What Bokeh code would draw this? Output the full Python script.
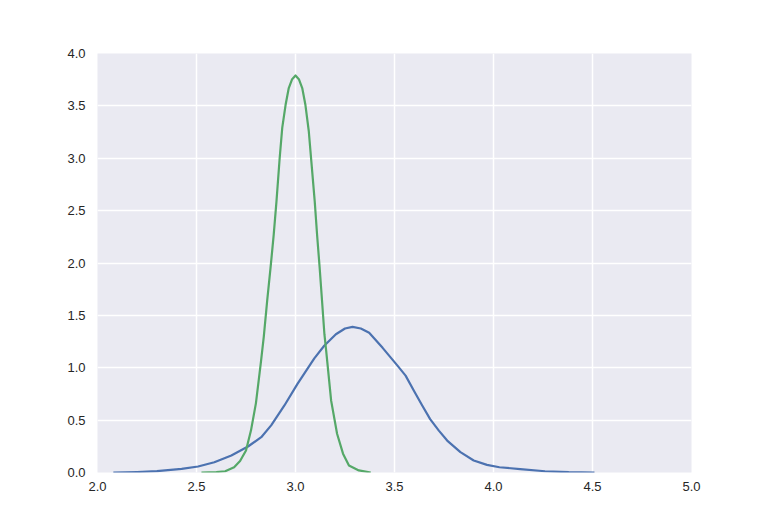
from bokeh.plotting import figure
from bokeh.models import Range1d, FixedTicker, PrintfTickFormatter
from bokeh.embed import file_html
from bokeh.resources import INLINE

# Blue density curve
blue_x = [2.08, 2.20, 2.30, 2.425, 2.508, 2.59, 2.676, 2.76, 2.827, 2.877, 2.944,
          3.01, 3.095, 3.145, 3.204, 3.25, 3.288, 3.33, 3.372, 3.44, 3.515, 3.556,
          3.598, 3.64, 3.68, 3.724, 3.766, 3.833, 3.90, 3.967, 4.03, 4.135, 4.26,
          4.38, 4.51]
blue_y = [0.0, 0.005, 0.013, 0.035, 0.057, 0.098, 0.162, 0.248, 0.337, 0.45, 0.64,
          0.846, 1.09, 1.21, 1.32, 1.375, 1.39, 1.375, 1.335, 1.19, 1.02, 0.925,
          0.78, 0.64, 0.51, 0.40, 0.305, 0.194, 0.115, 0.073, 0.05, 0.033, 0.012,
          0.003, 0.0]

# Green density curve
green_x = [2.525, 2.60, 2.645, 2.69, 2.72, 2.75, 2.775, 2.80, 2.825, 2.84, 2.857,
           2.874, 2.89, 2.904, 2.92, 2.933, 2.95, 2.966, 2.983, 3.0, 3.017, 3.034,
           3.05, 3.067, 3.08, 3.097, 3.109, 3.122, 3.134, 3.146, 3.155, 3.18, 3.21,
           3.24, 3.27, 3.32, 3.38]
green_y = [0.0, 0.004, 0.012, 0.05, 0.11, 0.21, 0.40, 0.66, 1.05, 1.30, 1.64,
           1.955, 2.27, 2.59, 3.00, 3.29, 3.51, 3.67, 3.755, 3.79, 3.755, 3.67,
           3.51, 3.26, 2.97, 2.59, 2.27, 1.955, 1.64, 1.32, 1.16, 0.686, 0.37,
           0.18, 0.067, 0.02, 0.0]

x_ticks = [2.0, 2.5, 3.0, 3.5, 4.0, 4.5, 5.0]
y_ticks = [0.0, 0.5, 1.0, 1.5, 2.0, 2.5, 3.0, 3.5, 4.0]

p = figure(width=760, height=517, output_backend="svg", toolbar_location=None,
           x_range=Range1d(2.0, 5.0), y_range=Range1d(0.0, 4.0),
           min_border_left=97, min_border_right=69, min_border_top=53,
           min_border_bottom=45)

p.background_fill_color = "#EAEAF2"
p.border_fill_color = "white"
p.outline_line_color = None

p.xaxis.ticker = FixedTicker(ticks=x_ticks)
p.yaxis.ticker = FixedTicker(ticks=y_ticks)
p.xaxis.formatter = PrintfTickFormatter(format="%.1f")
p.yaxis.formatter = PrintfTickFormatter(format="%.1f")

for ax in (p.xaxis, p.yaxis):
    ax.axis_line_color = None
    ax.major_tick_line_color = None
    ax.minor_tick_line_color = None
    ax.major_tick_out = 0
    ax.major_tick_in = 0
    ax.major_label_text_font = "Liberation Sans"
    ax.major_label_text_font_size = "13px"
    ax.major_label_text_color = "#262626"
p.xaxis.major_label_standoff = 9
p.yaxis.major_label_standoff = 12

p.xgrid.grid_line_color = "white"
p.ygrid.grid_line_color = "white"
p.xgrid.grid_line_width = 1.5
p.ygrid.grid_line_width = 1.5

p.line(blue_x, blue_y, line_color="#4C72B0", line_width=2.2, line_join="round")
p.line(green_x, green_y, line_color="#55A868", line_width=2.2, line_join="round")

open("out.html", "w").write(file_html(p, INLINE))
